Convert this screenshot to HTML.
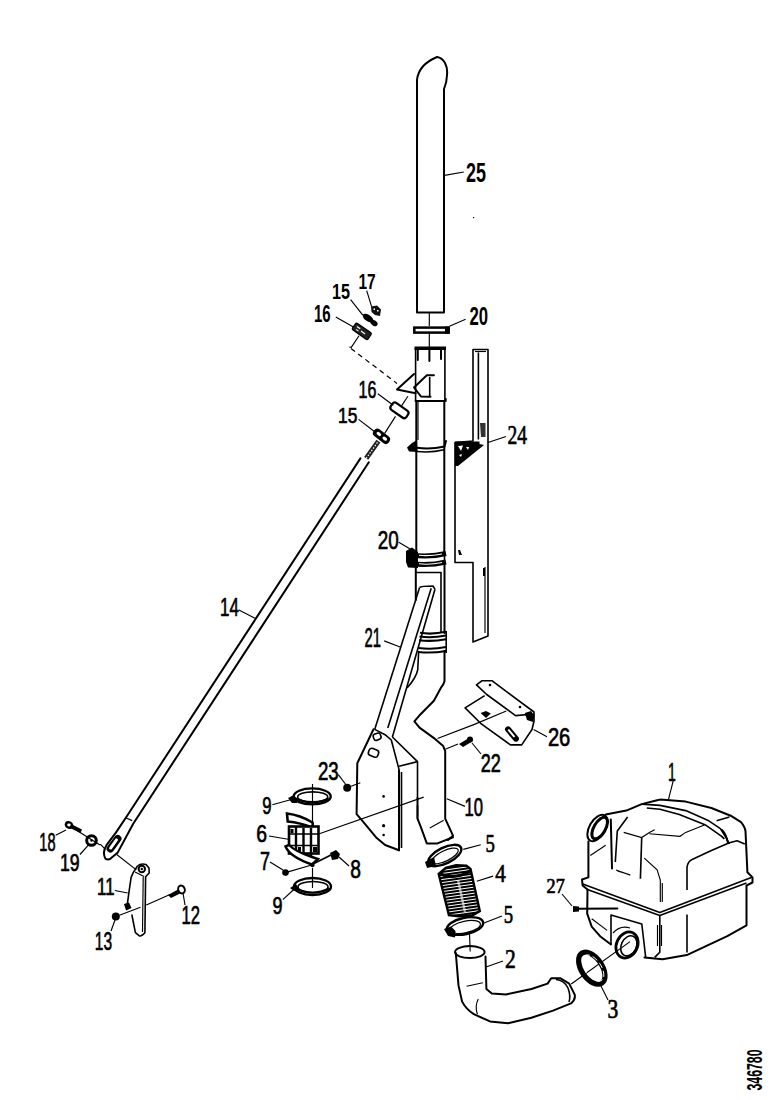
<!DOCTYPE html>
<html><head><meta charset="utf-8"><style>
html,body{margin:0;padding:0;background:#fff;}
svg{display:block;}
</style></head><body>
<svg width="778" height="1100" viewBox="0 0 778 1100">

<defs><pattern id="hatch" width="4" height="3" patternUnits="userSpaceOnUse" patternTransform="rotate(-8)"><rect width="4" height="3" fill="#fff"/><rect width="4" height="2" fill="#000"/></pattern></defs>
<g fill="none" stroke="#000" stroke-width="2" stroke-linejoin="round" stroke-linecap="round">
<path d="M417,312.5 V80 C418,70 425,62 437,57 C444,58 448,66 447,75 C447,80 446,84 444,89 V312.5 Z"/><path d="M417.8,349 V360 M429.4,349 V361 M441,349 V359"/><path d="M414,374 L397,389.4 L415.6,393.2"/><path d="M433.9,375.3 L426.8,375.3 L414,387.5 L421,396.5 L430.5,396.8"/><path d="M415.6,401 H445.7 V399"/><path d="M416.3,401 V552 M444.3,401 V552"/><path d="M417,447.8 Q431,449.5 444.5,446.5 L446,441"/><path d="M360.4,458.4 L126,817.5 L115.7,832.9 L106.5,845.2 Q102,852 105.4,858.6 Q108,860.5 110.6,858.6 L117.8,852.4 L133.2,823.7 L368.8,462.3"/><path d="M415.8,566 V600 M444.5,566 V633"/><path d="M444.5,651 V681.3 Q443.5,685 441.1,687.5 L433.9,700.8 L420.6,714.2 L414.4,721.4 L419.5,727.6 L435,738.9 L443.2,746.1 L445.2,751.2 V818.7 L453,835.7 L448,840"/><path d="M417.5,798 V818.7 L420.6,826.4 L426.8,843.4 L437.5,843.4 L453,837.2"/><path d="M373.5,729.3 L357.3,763.2 L356.6,814.1 L362,820.3 L375.9,837.2 L385.1,845 L399,850.3"/><path d="M399,770 V850.3"/><path d="M455.8,953 L458.5,985.4 L462.1,1001.6 Q466,1009 473.8,1014.2 L490,1021.4 L508,1023.2 L531.4,1017.8 L553,1010.6 L571,1003.4 Q576,999 574.6,994.4 L569.2,983.6 L560.2,978.2 L551.2,978.2 L547.6,983.6 L531.4,989 L506.2,994.4 L491.8,993.5 L486.4,989 L485.5,956.6"/><path d="M605.7,814.4 L626.3,810.6 L641.7,804.1 L657.1,800.3 L660,799.6 L685.7,801.6 L711.4,808 L730.7,815.7 L741,822.1 Q745,827 745.5,831.1 L746.1,844 L747.4,872.3 L752.5,877.4 V882.5 L746.5,885.5 V925.4 L727.3,936.2 L686.8,955.1 L662.6,959.2 L644.4,957.4"/><path d="M588.4,841.4 V877.4 L582,879.5 L582.6,885.5 L587.5,889.5 L587.2,913.7 L591.7,926.6 L600.7,936.8 L611,944.5"/><path d="M722,830 Q726,834 728,843"/><path d="M610.8,819.6 L612,868.4"/><path d="M577,908.8 L617.4,908.6"/>
</g>
<g fill="none" stroke="#000" stroke-width="1.6" stroke-linejoin="round">
<path d="M415.6,401 V348.5 H444.9 V401"/><path d="M429.7,377 V397"/><path d="M417,451.5 Q431,453 444,449.8"/><path d="M137.5,866 Q141,863 146,864.5 L149,868 L149.2,873 L145.6,876.7 L144.9,932.7 Q141,937 139.1,935.6 L135.4,932.7 L131.8,914.5"/><path d="M137.5,866 L133.3,872.4 L131.1,877.4 L128.9,892.7 L127.4,903.6 L127.8,909.4"/><path d="M417,552 V566 M444.5,552 V566"/><path d="M416,572.5 H441 V632"/><path d="M446.2,631 V653"/><path d="M419.6,587.4 L374.7,729.4"/><path d="M431.2,588.3 L387.8,727.9"/><path d="M435,589.3 L392.4,737"/><path d="M419.6,587.4 Q421,586 433,586 L435,589.3"/><path d="M418.7,651 L417.7,670 Q416,678 407,688"/><path d="M401.5,772 V848"/><path d="M374.7,729.4 L385.1,734.7 L391.3,740 L399,769.4"/><path d="M392.4,737 L417.5,761.6 V800"/><path d="M399,766.3 L417.5,761.6"/><path d="M417.5,805 V818.7"/><path d="M313,864 L331,855"/><path d="M556,979.5 Q564,980 568,988 Q571,996 569,1002"/><path d="M476.5,684.8 L482.1,680.7 L491.9,680.7 L534,712 L534,714 L515.5,715.6 L486.7,694.5 Z"/><path d="M484.7,695.6 L465.1,707.9 L480.6,723.3 L510.4,744.9 L521.7,744.9 L532,729.5 L534,721.3 L534,714"/><path d="M473,441 V349.5 H488 V636 L473,642 V562.5 H455 V442.5 Z"/><path d="M478.4,352.5 V439.5"/><path d="M582.7,884.1 L659.8,912.4 L752,877.2"/><path d="M586.6,889.3 L659.8,915.5 L746.5,883"/><path d="M659.8,915 V952.3 L654.7,957.4"/><path d="M687,914.6 V952.4"/><path d="M687,890 V867.1 Q688,861 692.1,859.4 L711.4,850.4 L729.4,842.7 L737.1,840.8 L744.8,844"/><path d="M641.7,804.1 L660,805.4 L685.7,810.6 L708.8,820.8 L720.4,828.6 L726.8,838.8 L729.4,844"/><path d="M646.8,808 L660,809.3 L679.3,814.4 L705,824.7 L721.7,836.3 L724.3,838.8"/><path d="M716.6,820.8 L729.4,817"/><path d="M641.7,837.6 L640.4,878.7"/><path d="M627.6,817 L617.3,831 L615.3,862"/><path d="M611,944 V915 L641.8,924 L645.7,957.4"/>
</g>
<g fill="none" stroke="#000" stroke-width="1.15">
<path d="M444.5,175.4 L463.8,172"/><path d="M429.3,313 V326 M429.3,333 V347"/><path d="M449.4,326.3 L465.6,319.3"/><path d="M418,401 V440"/><path d="M350.6,299.7 L362.8,315.1"/><path d="M366.7,290.7 L371.8,307.4"/><path d="M335.8,317 L355.1,328"/><path d="M359,335.7 L351.3,347.3 L349.3,347"/><path d="M377.8,393.7 L393.3,405.2"/><path d="M358.6,419.4 L375.3,432.2"/><path d="M401.7,405.6 L407.9,396.3"/><path d="M395.5,416.4 L384.7,433.4"/><path d="M125,817.5 L132.2,820.6"/><path d="M238.9,610 L255.5,618.5"/><path d="M100.3,844.2 L105.4,849.4 M116.7,854.5 L136.3,869.9"/><path d="M55.7,835.3 L66,830"/><path d="M80,854.5 L89,844.3"/><path d="M73,828 L100,845"/><path d="M143.2,877 L142.5,932"/><path d="M135,872 L144,876.5"/><path d="M114.8,890.5 L127.7,893"/><path d="M170,894.4 L146.3,905.1 M140.5,907.2 L119.4,915.2"/><path d="M183,893 L185,905"/><path d="M111,931 L115,920"/><path d="M398.8,542.3 L414.7,551.8"/><path d="M384.2,640.9 L400.7,647.3"/><path d="M429.8,828 L443.7,820.3"/><path d="M446.8,798.7 L465,806.4"/><path d="M437.5,738.5 L474.4,724.4 L506.3,711"/><path d="M445.3,749.3 L458,744"/><path d="M318.6,834 L423.7,797.1"/><path d="M338.3,774.7 L345.4,784"/><path d="M351,786.3 L360.3,782.8"/><path d="M312.5,784 V826 M312.5,868 V888"/><path d="M272.4,804.8 L293.2,799"/><path d="M282.8,899.6 L295.5,888"/><path d="M269,836 L289.7,839.5"/><path d="M285.5,872.6 L311.7,865"/><path d="M270,862 L283,870"/><path d="M349,866 L339,857"/><path d="M463.3,849.4 L480.8,844.8"/><path d="M476.7,881.3 L493.1,876.1"/><path d="M484,923 L502,916"/><path d="M469.4,931 L470.2,951.5"/><path d="M466.6,986.3 L482.8,982.7 M478.3,998.9 Q474.5,1006 477.4,1014.2"/><path d="M486,967 L503,961"/><path d="M571.2,984 L630,941.6"/><path d="M601,986 L608,1000"/><path d="M533.6,729.6 L547,736.8"/><path d="M472,743 L481,754"/><path d="M475,351.5 H486"/><path d="M485,567 V633"/><path d="M488,442.5 L506,436.5"/><path d="M657.5,925 V946 M661.5,925 V946"/><path d="M623.7,832.4 L641.7,837.6 L649.4,832.4 L654.6,829.8"/><path d="M649.4,833.7 L680,836.3 L685.7,832.4 L705,824.7"/><path d="M644.3,858.1 L657.1,869.7 L660.3,880 V902"/><path d="M662.3,883 V902"/><path d="M590.3,855.6 L605.7,845.3"/><path d="M617.3,871 L630,874.8 M616,870 L630.3,875.1"/><path d="M591.7,918.8 L607.1,930.4"/><path d="M673.2,780.8 L668.5,799.3"/><path d="M613,933 Q620,925 630,928"/><path d="M562,894 L572,906"/>
</g>
<g fill="none" stroke="#000" stroke-width="1.2" stroke-dasharray="5 4">
<path d="M351,348.5 L397,383.4"/>
</g>
<g fill="#000" stroke="none">
<rect x="414.3" y="327.6" width="34.3" height="5" fill="none" stroke="#000" stroke-width="2.5"/><rect x="445" y="326.5" width="4.8" height="7.2"/><rect x="473" y="217" width="1.2" height="1.2"/><rect x="414.5" y="346.5" width="31.5" height="3.5"/><path d="M407,447.5 L412,443 L417,440 L417.5,452 L409,451.5 Z"/><path d="M371,306.5 L377,305.5 L381,309.5 L380,316 L375,315 L371.5,312 Z" fill="#111"/><path d="M373.5,308.5 h1.5 v1.5 h-1.5z M377,310 h1.5 v1.5 h-1.5z" fill="#fff"/><ellipse cx="368" cy="318" rx="6" ry="3.2" transform="rotate(35 368 318)"/><ellipse cx="374" cy="323" rx="4" ry="2.6" transform="rotate(35 374 323)"/><g transform="rotate(35 361.8 331.3)"><rect x="352.3" y="327.3" width="19" height="8" rx="1.5" fill="#222" stroke="#000" stroke-width="1.2"/><path d="M355,329.5 h4 v1.2 h-4z M361,331 h5 v1.2 h-5z M356,332.5 h3 v1 h-3z" fill="#fff"/></g><g transform="rotate(35 399.4 410.2)"><rect x="390" y="406" width="19" height="8.5" rx="3" fill="none" stroke="#000" stroke-width="2.2"/></g><g transform="rotate(38 381.5 436.3)"><rect x="372" y="432" width="19" height="8.6" rx="4" fill="#000"/><rect x="375.5" y="434.6" width="5" height="3" rx="1.5" fill="#fff"/><rect x="383" y="434.6" width="5" height="3" rx="1.5" fill="#fff"/></g><path d="M366.2,458.4 L378.4,441.1" stroke="#222" stroke-width="5" fill="none"/><path d="M366.2,458.4 L378.4,441.1" stroke="#fff" stroke-width="1.2" fill="none" stroke-dasharray="1.5 1.5"/><g transform="rotate(-54 114 843.7)"><rect x="104" y="840" width="20" height="7.5" rx="3.7" fill="#000"/><rect x="107" y="842" width="13" height="3" rx="1.5" fill="#fff"/></g><ellipse cx="69" cy="825" rx="4.5" ry="3.8" transform="rotate(30 69 825)"/><ellipse cx="69" cy="825" rx="1.8" ry="1.4" fill="#fff"/><path d="M71,824 L82,829.5 L80.5,833 L70,828 Z"/><circle cx="91.5" cy="840.5" r="4.8" fill="none" stroke="#000" stroke-width="3"/><circle cx="91.5" cy="840.5" r="1.2"/><circle cx="141.8" cy="869" r="3.2" fill="none" stroke="#000" stroke-width="2"/><circle cx="141.8" cy="869" r="1.2"/><path d="M124,904 L129,902.5 L131.5,908 L126,910.5 Z"/><path d="M168,895 L178,889.5 L181,893 L171,898 Z"/><ellipse cx="181.5" cy="889.5" rx="3.2" ry="4" transform="rotate(-25 181.5 889.5)" fill="none" stroke="#000" stroke-width="2"/><circle cx="115.8" cy="916.6" r="4"/><path d="M410,555 Q430,557.5 446,553.5 M410,563.8 Q430,566 446,562" fill="none" stroke="#000" stroke-width="5"/><path d="M419,555.3 Q430,556.3 442,554 M419,563.8 Q430,565 442,562.5" fill="none" stroke="#fff" stroke-width="1.1"/><path d="M406,551 L412,547.5 L418,552 L418,568 L408,567.5 L406,562 Z"/><path d="M420,632.8 Q432,634.8 446,631.8 M419.5,636.5 Q432,638.3 446,635.5 M419,640.2 Q432,642 446,639.2 M418.5,648 Q432,650 446,647 M418.5,652 Q432,653.5 446,651" fill="none" stroke="#000" stroke-width="2.1"/><rect x="373.5" y="733.5" width="7.5" height="6.5" rx="2.5" fill="none" stroke="#000" stroke-width="1.6" transform="rotate(-20 377 737)"/><rect x="368.5" y="749" width="10" height="7.5" rx="3" fill="none" stroke="#000" stroke-width="1.6" transform="rotate(20 373.5 752.8)"/><circle cx="383.6" cy="796.4" r="1.3"/><circle cx="383.6" cy="825.7" r="1.6"/><circle cx="383.6" cy="835" r="1.3"/><circle cx="347.2" cy="787.8" r="4"/><ellipse cx="312.2" cy="796.4" rx="18.5" ry="8" fill="none" stroke="#000" stroke-width="2.4"/><ellipse cx="312.7" cy="796.9" rx="15.0" ry="5" fill="none" stroke="#000" stroke-width="1.6"/><path d="M295.7,798.4 Q312.2,806.4 328.7,798.4" fill="none" stroke="#000" stroke-width="2.2"/><ellipse cx="312.5" cy="886.5" rx="18.5" ry="8.5" fill="none" stroke="#000" stroke-width="2.4"/><ellipse cx="313.0" cy="887.0" rx="15.0" ry="5.5" fill="none" stroke="#000" stroke-width="1.6"/><path d="M296.0,888.5 Q312.5,897.0 329.0,888.5" fill="none" stroke="#000" stroke-width="2.2"/><path d="M288,798 l6,-3 l3,4 l0,4 l-5,0 z"/><path d="M290,888 l6,-4 l3,5 l-5,2 z"/><path d="M287,813.5 Q300,815 312.5,822.5 L313,828 Q300,822.5 287.7,821.5 Z" fill="#fff" stroke="#000" stroke-width="2.6"/><rect x="289" y="826.5" width="29.5" height="27" fill="#fff" stroke="#000" stroke-width="2.6"/><path d="M296,827 V853 M303.5,828 V854 M311,828 V856" stroke="#000" stroke-width="2.4" fill="none"/><path d="M289,834 H318 M289,845.5 H318" stroke="#000" stroke-width="1.5" fill="none"/><path d="M290.5,829 h3 v4 h-3z M313,847 h4 v5 h-4z M298,847 h3 v5 h-3z"/><path d="M285.5,846.5 Q290,857 312,864.5 L318,859 L312,857 Q296,852 289,845 Z" fill="#fff" stroke="#000" stroke-width="2.4"/><circle cx="285.5" cy="872.6" r="3.3"/><path d="M330,853 l6,-3 l4,4 l-2,5 l-6,1 z"/><circle cx="312.5" cy="865" r="2.2"/><g transform="rotate(-26 444.8 855.5)"><ellipse cx="444.8" cy="855.5" rx="18" ry="8" fill="none" stroke="#000" stroke-width="2.4"/><ellipse cx="444.8" cy="856" rx="14.5" ry="5.2" fill="none" stroke="#000" stroke-width="1.2"/></g><path d="M425,862 l9,-5 l2,9 l-9,2 z"/><path d="M438.7,874 L445.8,867.9 L456.1,865.3 L466.4,865.8 L470.5,869 L479.8,911.1 L472.6,915.2 L459.2,916.2 L448.9,915.2 Z" fill="url(#hatch)" stroke="#000" stroke-width="2.4"/><path d="M440,874 Q455,880 470,871" fill="none" stroke="#000" stroke-width="3"/><path d="M458,880 L465,912" fill="none" stroke="#fff" stroke-width="2.5" opacity="0.6"/><g transform="rotate(-12 465 926)"><ellipse cx="465" cy="926" rx="18.5" ry="8.2" fill="none" stroke="#000" stroke-width="2.4"/><ellipse cx="465" cy="927" rx="15.5" ry="5.8" fill="none" stroke="#000" stroke-width="1.2"/></g><path d="M444,929 L451,926.5 L455.5,931 L455,937.5 L448,936 Z"/><ellipse cx="469.8" cy="952.1" rx="14.8" ry="6" fill="none" stroke="#000" stroke-width="2"/><g transform="rotate(56 591.8 968.2)"><ellipse cx="591.8" cy="968.2" rx="18" ry="10.3" fill="none" stroke="#000" stroke-width="5.2"/><ellipse cx="592.5" cy="967" rx="15" ry="8" fill="none" stroke="#fff" stroke-width="0.9" stroke-dasharray="6 3"/></g><path d="M480.6,713 L486,711 L490.8,713.5 L486,718 Z"/><g transform="rotate(50 512 734)"><rect x="503" y="731" width="18" height="6" rx="3" fill="#000"/><rect x="506" y="733" width="10" height="2" rx="1" fill="#fff"/></g><path d="M524.8,713 L531,711 L534.5,716 L533,722 L527,720 Z"/><circle cx="490" cy="685" r="1.3"/><circle cx="520" cy="707" r="1.3"/><path d="M459,744 L469,738 L473,741 L463,747 Z"/><circle cx="470" cy="739.5" r="3"/><path d="M455,441.5 L479.5,441.5 L479.5,444 L484,444.9 L458,466 L455,466 Z" fill="#000"/><path d="M458,446 L463,445.5 L461,451 Z M466,447 l3,0 l-1,3 z M459,455 l3,-1 l-1,3 z" fill="#fff"/><path d="M480,423 L485.5,423 L485.5,437 L481,437 Z" fill="#333"/><path d="M481,426 l0,0 z"/><path d="M458,550 l2,0 l2,5 l-3,0 z"/><path d="M483,568 l2,0 l0,8 l-2,0 z"/><g transform="rotate(-60 597.4 828)"><ellipse cx="597.4" cy="828" rx="14.5" ry="8" fill="none" stroke="#000" stroke-width="2"/><ellipse cx="598.5" cy="830" rx="12" ry="5.8" fill="none" stroke="#000" stroke-width="3"/></g><g transform="rotate(25 627 945)"><ellipse cx="627" cy="945" rx="10.5" ry="13.5" fill="none" stroke="#000" stroke-width="2.8"/><ellipse cx="629" cy="945" rx="7.5" ry="10.5" fill="none" stroke="#000" stroke-width="1.6"/></g><path d="M573,906 L579,906.5 L579,911.5 L573,912 Z"/>
</g>
<g fill="#000">
<text x="466.0" y="181.7" font-family='"Liberation Sans", sans-serif' font-weight="bold" font-size="27.4" textLength="20.0" lengthAdjust="spacingAndGlyphs" stroke="#000" stroke-width="0">25</text>
<text x="358.5" y="289.4" font-family='"Liberation Sans", sans-serif' font-weight="bold" font-size="22.9" textLength="17.2" lengthAdjust="spacingAndGlyphs" stroke="#000" stroke-width="0">17</text>
<text x="332.0" y="299.0" font-family='"Liberation Sans", sans-serif' font-weight="bold" font-size="22.9" textLength="18.0" lengthAdjust="spacingAndGlyphs" stroke="#000" stroke-width="0">15</text>
<text x="314.0" y="322.2" font-family='"Liberation Sans", sans-serif' font-weight="bold" font-size="24.6" textLength="16.7" lengthAdjust="spacingAndGlyphs" stroke="#000" stroke-width="0">16</text>
<text x="469.4" y="324.7" font-family='"Liberation Sans", sans-serif' font-weight="bold" font-size="26.7" textLength="18.6" lengthAdjust="spacingAndGlyphs" stroke="#000" stroke-width="0">20</text>
<text x="358.6" y="397.5" font-family='"Liberation Sans", sans-serif' font-weight="normal" font-size="23.6" textLength="17.9" lengthAdjust="spacingAndGlyphs" stroke="#000" stroke-width="0.7">16</text>
<text x="338.0" y="423.2" font-family='"Liberation Sans", sans-serif' font-weight="normal" font-size="21.7" textLength="19.3" lengthAdjust="spacingAndGlyphs" stroke="#000" stroke-width="0.7">15</text>
<text x="507.5" y="444.0" font-family='"Liberation Serif", serif' font-weight="normal" font-size="27.4" textLength="19.5" lengthAdjust="spacingAndGlyphs" stroke="#000" stroke-width="0.7">24</text>
<text x="377.8" y="548.6" font-family='"Liberation Sans", sans-serif' font-weight="normal" font-size="26.3" textLength="21.0" lengthAdjust="spacingAndGlyphs" stroke="#000" stroke-width="0.7">20</text>
<text x="220.0" y="616.2" font-family='"Liberation Sans", sans-serif' font-weight="normal" font-size="26.4" textLength="18.9" lengthAdjust="spacingAndGlyphs" stroke="#000" stroke-width="0.7">14</text>
<text x="364.5" y="646.6" font-family='"Liberation Sans", sans-serif' font-weight="normal" font-size="27.3" textLength="16.5" lengthAdjust="spacingAndGlyphs" stroke="#000" stroke-width="0.7">21</text>
<text x="547.9" y="746.2" font-family='"Liberation Sans", sans-serif' font-weight="normal" font-size="25.3" textLength="22.4" lengthAdjust="spacingAndGlyphs" stroke="#000" stroke-width="0.7">26</text>
<text x="480.8" y="771.7" font-family='"Liberation Sans", sans-serif' font-weight="normal" font-size="25.4" textLength="20.1" lengthAdjust="spacingAndGlyphs" stroke="#000" stroke-width="0.7">22</text>
<text x="317.9" y="780.0" font-family='"Liberation Sans", sans-serif' font-weight="normal" font-size="25.3" textLength="20.8" lengthAdjust="spacingAndGlyphs" stroke="#000" stroke-width="0.7">23</text>
<text x="668.1" y="781.2" font-family='"Liberation Sans", sans-serif' font-weight="normal" font-size="25.9" textLength="7.8" lengthAdjust="spacingAndGlyphs" stroke="#000" stroke-width="0.7">1</text>
<text x="262.3" y="814.0" font-family='"Liberation Sans", sans-serif' font-weight="normal" font-size="24.3" textLength="9.3" lengthAdjust="spacingAndGlyphs" stroke="#000" stroke-width="0.7">9</text>
<text x="464.6" y="815.6" font-family='"Liberation Sans", sans-serif' font-weight="normal" font-size="25.3" textLength="18.5" lengthAdjust="spacingAndGlyphs" stroke="#000" stroke-width="0.7">10</text>
<text x="256.2" y="841.8" font-family='"Liberation Sans", sans-serif' font-weight="normal" font-size="24.3" textLength="10.8" lengthAdjust="spacingAndGlyphs" stroke="#000" stroke-width="0.7">6</text>
<text x="39.3" y="850.9" font-family='"Liberation Sans", sans-serif' font-weight="normal" font-size="24.9" textLength="16.2" lengthAdjust="spacingAndGlyphs" stroke="#000" stroke-width="0.7">18</text>
<text x="485.4" y="851.9" font-family='"Liberation Serif", serif' font-weight="normal" font-size="25.6" textLength="9.4" lengthAdjust="spacingAndGlyphs" stroke="#000" stroke-width="0.7">5</text>
<text x="260.0" y="869.5" font-family='"Liberation Sans", sans-serif' font-weight="normal" font-size="25.3" textLength="10.0" lengthAdjust="spacingAndGlyphs" stroke="#000" stroke-width="0.7">7</text>
<text x="350.3" y="878.0" font-family='"Liberation Sans", sans-serif' font-weight="normal" font-size="25.3" textLength="10.7" lengthAdjust="spacingAndGlyphs" stroke="#000" stroke-width="0.7">8</text>
<text x="60.0" y="870.5" font-family='"Liberation Sans", sans-serif' font-weight="normal" font-size="24.7" textLength="19.7" lengthAdjust="spacingAndGlyphs" stroke="#000" stroke-width="0.7">19</text>
<text x="495.2" y="882.0" font-family='"Liberation Serif", serif' font-weight="normal" font-size="25.9" textLength="10.5" lengthAdjust="spacingAndGlyphs" stroke="#000" stroke-width="0.7">4</text>
<text x="97.1" y="894.8" font-family='"Liberation Sans", sans-serif' font-weight="normal" font-size="24.7" textLength="17.4" lengthAdjust="spacingAndGlyphs" stroke="#000" stroke-width="0.7">11</text>
<text x="546.6" y="893.0" font-family='"Liberation Serif", serif' font-weight="normal" font-size="20.9" textLength="18.2" lengthAdjust="spacingAndGlyphs" stroke="#000" stroke-width="0.7">27</text>
<text x="181.5" y="923.7" font-family='"Liberation Sans", sans-serif' font-weight="normal" font-size="26.4" textLength="18.5" lengthAdjust="spacingAndGlyphs" stroke="#000" stroke-width="0.7">12</text>
<text x="503.8" y="922.5" font-family='"Liberation Serif", serif' font-weight="normal" font-size="25.4" textLength="9.4" lengthAdjust="spacingAndGlyphs" stroke="#000" stroke-width="0.7">5</text>
<text x="272.4" y="913.5" font-family='"Liberation Sans", sans-serif' font-weight="normal" font-size="24.3" textLength="10.0" lengthAdjust="spacingAndGlyphs" stroke="#000" stroke-width="0.7">9</text>
<text x="94.8" y="950.4" font-family='"Liberation Sans", sans-serif' font-weight="normal" font-size="26.6" textLength="17.3" lengthAdjust="spacingAndGlyphs" stroke="#000" stroke-width="0.7">13</text>
<text x="504.9" y="967.9" font-family='"Liberation Serif", serif' font-weight="normal" font-size="26.5" textLength="10.8" lengthAdjust="spacingAndGlyphs" stroke="#000" stroke-width="0.7">2</text>
<text x="607.5" y="1018.3" font-family='"Liberation Serif", serif' font-weight="normal" font-size="26.5" textLength="10.8" lengthAdjust="spacingAndGlyphs" stroke="#000" stroke-width="0.7">3</text>
<text transform="translate(761.5,1090.5) rotate(-90)" font-family='"Liberation Sans", sans-serif' font-weight="bold" font-size="22" textLength="41" lengthAdjust="spacingAndGlyphs">346780</text>
</g>

</svg>
</body></html>
